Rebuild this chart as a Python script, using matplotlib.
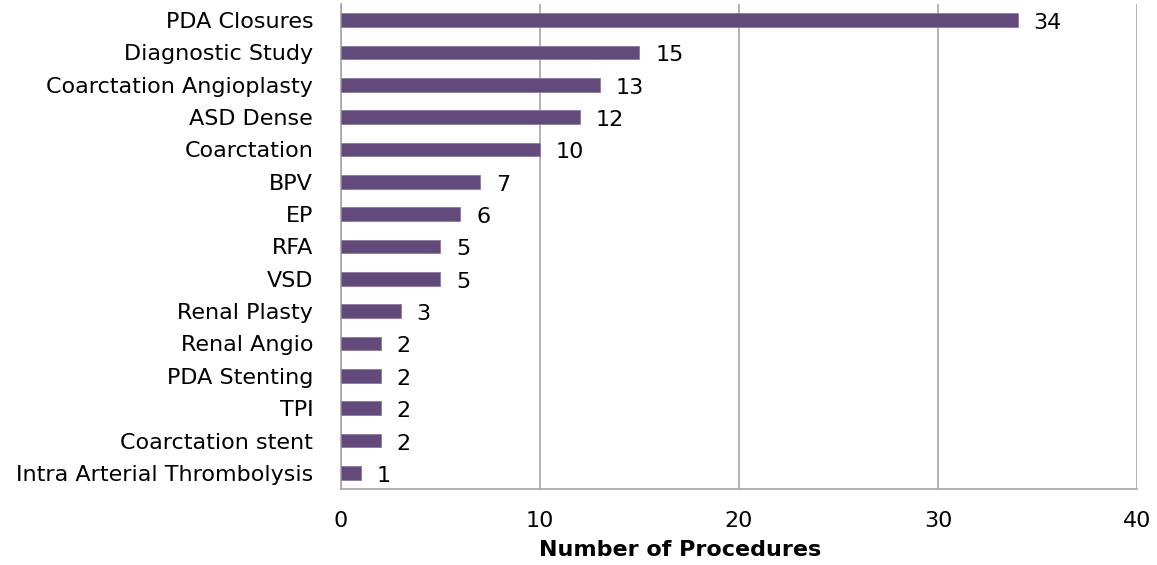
import matplotlib
matplotlib.use('Agg')
import matplotlib.pyplot as plt

procedures = ['PDA Closures', 'Diagnostic Study', 'Coarctation Angioplasty', 'ASD Dense',
              'Coarctation', 'BPV', 'EP', 'RFA', 'VSD', 'Renal Plasty', 'Renal Angio',
              'PDA Stenting', 'TPI', 'Coarctation stent', 'Intra Arterial Thrombolysis']
counts = [34, 15, 13, 12, 10, 7, 6, 5, 5, 3, 2, 2, 2, 2, 1]
x_ticks = [0, 10, 20, 30, 40]

plt.rcParams['font.family'] = ['DejaVu Sans']

fig = plt.figure(figsize=(11.57, 5.65), dpi=100)
ax = fig.add_axes([0.2947, 0.1345, 0.688, 0.8585])

ypos = list(range(len(procedures)))
bars = ax.barh(ypos, counts, height=0.43, color='#624A7A', edgecolor='#8C7AA0', linewidth=0.6, zorder=3)

# data labels right of each bar
for bar, v in zip(bars, counts):
    ax.annotate(str(v), (bar.get_width(), bar.get_y() + bar.get_height() / 2),
                xytext=(16, -3), textcoords='offset pixels',
                ha='left', va='center', fontsize=16, color='black')

ax.set_yticks(ypos)
ax.set_yticklabels(procedures, fontsize=16)
ax.set_ylim(len(procedures) - 0.5, -0.5)
ax.set_xlim(0, 40)
ax.set_xticks(x_ticks)
ax.set_xticklabels([str(t) for t in x_ticks], fontsize=16)
ax.tick_params(axis='y', length=0, pad=20)
ax.tick_params(axis='x', length=0, pad=16)
ax.xaxis.grid(True, color='#A6A6A6', linewidth=1.2, zorder=0)
ax.set_axisbelow(True)

for s in ['top', 'right']:
    ax.spines[s].set_visible(False)
for s in ['left', 'bottom']:
    ax.spines[s].set_color('#A6A6A6')
    ax.spines[s].set_linewidth(1.2)

# axis title sits left of the axis centre in the original
ax.set_xlabel('Number of Procedures', fontsize=16, fontweight='bold')
ax.xaxis.set_label_coords(0.426, -0.106)

plt.savefig('out.png', dpi=100)
